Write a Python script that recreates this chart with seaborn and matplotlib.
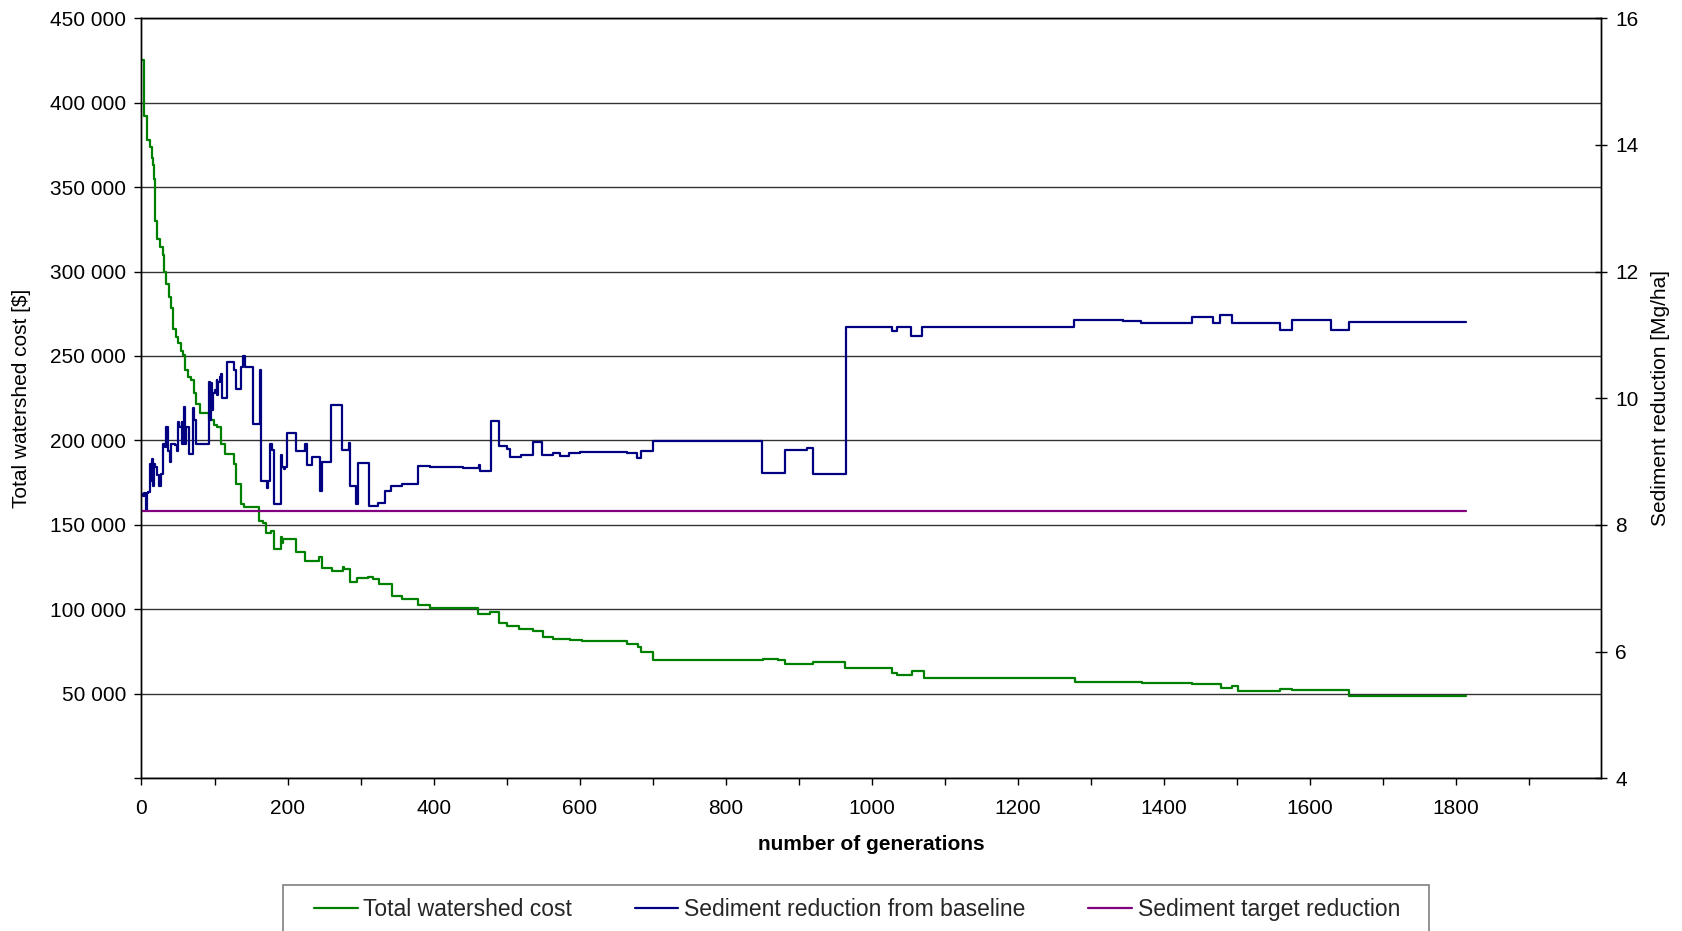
import numpy as np
import pandas as pd
import matplotlib
matplotlib.use("Agg")
import matplotlib.pyplot as plt
from matplotlib.patches import Rectangle
from matplotlib.ticker import FuncFormatter, MultipleLocator
import seaborn as sns

# ---- data -------------------------------------------------------------
# Total watershed cost [$], step changes at the given generation
cost_gen = [0, 3, 8, 12, 14, 16, 17, 18, 19, 21, 25, 29, 31, 34, 37, 40, 43, 47,
            50, 54, 57, 59, 63, 68, 72, 75, 80, 92, 99, 104, 109, 115, 127, 130,
            136, 141, 161, 166, 170.5, 176.8, 181.4, 190.5, 192.5, 194.2, 211.5,
            223.9, 243, 246.7, 260.4, 275.4, 277.3, 285.5, 294.6, 310.6, 317.4,
            325.2, 342.5, 357.1, 379, 395, 431.5, 460.7, 477.2, 490, 500, 517.3,
            536.5, 549.3, 563.9, 586.7, 602.7, 665.2, 680.3, 683.5, 699.9, 851.4,
            872, 881, 920, 963, 1027, 1035, 1054.5, 1071.4, 1278, 1369.4, 1439,
            1477.5, 1492.5, 1501, 1558.7, 1574.7, 1653.2, 1814]
cost_val = [425000, 392000, 378000, 373500, 367000, 363000, 355000, 345000, 330000,
            319000, 314500, 310000, 300000, 292500, 285000, 278500, 266000, 261500,
            257500, 253000, 250500, 241500, 237500, 235500, 228000, 221700, 216200,
            212000, 209300, 208000, 198000, 192000, 186200, 174300, 162500, 160500,
            152000, 151400, 145000, 146600, 135700, 142700, 139500, 141500, 133700,
            128800, 130800, 124200, 122800, 125200, 123600, 116100, 118700, 119300,
            117900, 114700, 108000, 106100, 102800, 100600, 101000, 97200, 98400,
            92100, 89900, 88300, 86900, 83900, 82500, 81600, 81000, 79600, 77600,
            75000, 70000, 70800, 70000, 67900, 69000, 65100, 62200, 61400, 63300,
            59400, 56900, 56500, 55700, 53200, 54500, 51400, 52800, 52200, 48500,
            48500]

# Sediment reduction from baseline [Mg/ha]
sed_gen = [0, 2, 4, 6, 7, 9, 12, 13, 14, 16, 17, 19, 21, 24, 27, 29, 32, 34, 36,
           39, 41, 46, 48, 50, 52, 55, 56, 58, 59, 61, 65, 70, 72, 74, 92, 94, 95,
           97, 98, 100, 103, 104, 105, 107, 109, 110, 117, 127, 130, 136, 139, 142,
           152, 162, 163, 172, 173, 176, 179, 181, 191, 193, 195, 197, 199, 212,
           224, 226, 233, 245, 247, 259, 275, 284, 285, 294, 296, 311, 324, 334,
           341, 357, 379, 395, 440, 462, 463, 478, 489, 500, 504, 519, 536, 549,
           564, 573, 586, 601, 665, 679, 684, 700, 850, 881, 911, 920, 964, 1027,
           1034, 1054, 1069, 1277, 1344, 1369, 1439, 1467, 1477, 1493, 1502, 1559,
           1575, 1629, 1654, 1814]
sed_val = [8.49, 8.45, 8.50, 8.24, 8.50, 8.52, 8.96, 8.70, 9.04, 8.62, 8.96, 8.91,
           8.78, 8.62, 8.80, 9.28, 9.23, 9.54, 9.17, 8.99, 9.28, 9.26, 9.17, 9.62,
           9.54, 9.62, 9.28, 9.86, 9.28, 9.54, 9.12, 9.84, 9.66, 9.28, 10.26, 9.66,
           10.24, 9.82, 10.08, 10.13, 10.29, 10.05, 10.26, 10.34, 10.39, 10.00,
           10.57, 10.44, 10.15, 10.49, 10.67, 10.49, 9.60, 10.45, 8.70, 8.59, 8.70,
           9.28, 9.18, 8.33, 9.10, 8.91, 8.89, 8.91, 9.45, 9.16, 9.27, 8.95, 9.07,
           8.53, 9.00, 9.89, 9.18, 9.30, 8.62, 8.33, 8.98, 8.30, 8.34, 8.53, 8.61,
           8.65, 8.93, 8.91, 8.90, 8.95, 8.85, 9.64, 9.25, 9.20, 9.07, 9.10, 9.31,
           9.11, 9.13, 9.08, 9.13, 9.15, 9.13, 9.06, 9.16, 9.33, 8.82, 9.18, 9.22,
           8.80, 11.13, 11.06, 11.13, 10.98, 11.13, 11.23, 11.22, 11.19, 11.28,
           11.18, 11.32, 11.19, 11.18, 11.08, 11.23, 11.07, 11.20, 11.20]

# Sediment target reduction [Mg/ha]
target_gen = [0, 1814]
target_val = [8.22, 8.22]

cost_df = pd.DataFrame({"generation": cost_gen, "cost": cost_val})
sed_df = pd.DataFrame({"generation": sed_gen, "reduction": sed_val})
target_df = pd.DataFrame({"generation": target_gen, "reduction": target_val})

# ---- style ------------------------------------------------------------
sns.set_theme(style="white")
plt.rcParams["font.family"] = ["Liberation Sans", "DejaVu Sans"]
FS = 15
FS_LEG = 16.5
plt.rcParams["font.size"] = FS

W, H = 1683, 931
fig = plt.figure(figsize=(W / 100, H / 100), dpi=100)
left, right, top, bottom = 141.5, 1600.7, 18.2, 778.2
ax = fig.add_axes([left / W, 1 - bottom / H, (right - left) / W, (bottom - top) / H])
ax2 = ax.twinx()

GREEN, BLUE, PURPLE = "#008000", "#000080", "#800080"
LW = 1.6

sns.lineplot(data=cost_df, x="generation", y="cost", ax=ax, color=GREEN,
             linewidth=LW, drawstyle="steps-post", estimator=None, sort=False,
             label="Total watershed cost")
sns.lineplot(data=sed_df, x="generation", y="reduction", ax=ax2, color=BLUE,
             linewidth=LW, drawstyle="steps-post", estimator=None, sort=False,
             label="Sediment reduction from baseline")
sns.lineplot(data=target_df, x="generation", y="reduction", ax=ax2, color=PURPLE,
             linewidth=LW, estimator=None, sort=False,
             label="Sediment target reduction")

for a in (ax, ax2):
    leg = a.get_legend()
    if leg is not None:
        leg.remove()

# ---- axes -------------------------------------------------------------
ax.set_xlim(0, 1998)
ax.set_ylim(0, 450000)
ax2.set_ylim(4, 16)

ax.xaxis.set_major_locator(MultipleLocator(100))
ax.xaxis.set_major_formatter(FuncFormatter(
    lambda v, p: f"{int(round(v))}" if int(round(v)) % 200 == 0 else ""))
ax.yaxis.set_major_locator(MultipleLocator(50000))
ax.yaxis.set_major_formatter(FuncFormatter(
    lambda v, p: "" if v == 0 else f"{int(v):,}".replace(",", " ")))
ax2.yaxis.set_major_locator(MultipleLocator(2))
ax2.yaxis.set_major_formatter(FuncFormatter(lambda v, p: f"{int(v)}"))

ax.grid(False)
ax2.grid(False)
ax.yaxis.grid(True, color="#333333", linewidth=1.0)
ax.set_axisbelow(True)

for a in (ax, ax2):
    for s in a.spines.values():
        s.set_color("black")
        s.set_linewidth(1.0)

ax.tick_params(axis="y", which="major", direction="out", length=5, width=1,
               color="black", pad=6, labelsize=FS, labelcolor="black", left=True)
ax.tick_params(axis="x", which="major", direction="out", length=5, width=1,
               color="black", pad=10, labelsize=FS, labelcolor="black", bottom=True)
ax2.tick_params(axis="y", which="major", direction="inout", length=9, width=1,
                color="black", pad=6, labelsize=FS, labelcolor="black", right=True)

ax.set_xlabel("number of generations", fontsize=FS, fontweight="bold", color="black")
ax.set_ylabel("Total watershed cost [$]", fontsize=FS, color="black")
ax2.set_ylabel("Sediment reduction [Mg/ha]", fontsize=FS, color="black")

ax.xaxis.set_label_coords(0.5, (bottom - 845) / (bottom - top))
ax.xaxis.label.set_verticalalignment("center")
ax.yaxis.set_label_coords((21.5 - left) / (right - left), 0.5)
ax.yaxis.label.set_verticalalignment("center")
ax2.yaxis.set_label_coords((1661 - left) / (right - left), 0.5)
ax2.yaxis.label.set_verticalalignment("center")

# ---- legend -----------------------------------------------------------
# box running off the lower edge of the figure
leg_left, leg_right, leg_top = 283, 1429, 885
fig.add_artist(Rectangle((leg_left / W, -0.02), (leg_right - leg_left) / W,
                         1 - leg_top / H + 0.02, transform=fig.transFigure,
                         facecolor="white", edgecolor="#808080", linewidth=1.2,
                         zorder=5))

handles = ax.get_lines()[:1] + ax2.get_lines()[:2]
labels = [h.get_label() for h in handles]
pad_px = 0.55 * FS_LEG * 100 / 72
leg = fig.legend(handles, labels, ncol=3, loc="upper left",
                 bbox_to_anchor=((314 - pad_px) / W, 1 - leg_top / H,
                                 (1400 - 314 + 2 * pad_px) / W, 0),
                 mode="expand", frameon=False,
                 fontsize=FS_LEG, handlelength=1.9, handletextpad=0.25,
                 borderpad=0.55, borderaxespad=0, columnspacing=2.0)
leg.set_zorder(6)

fig.savefig("out.png", dpi=100)
